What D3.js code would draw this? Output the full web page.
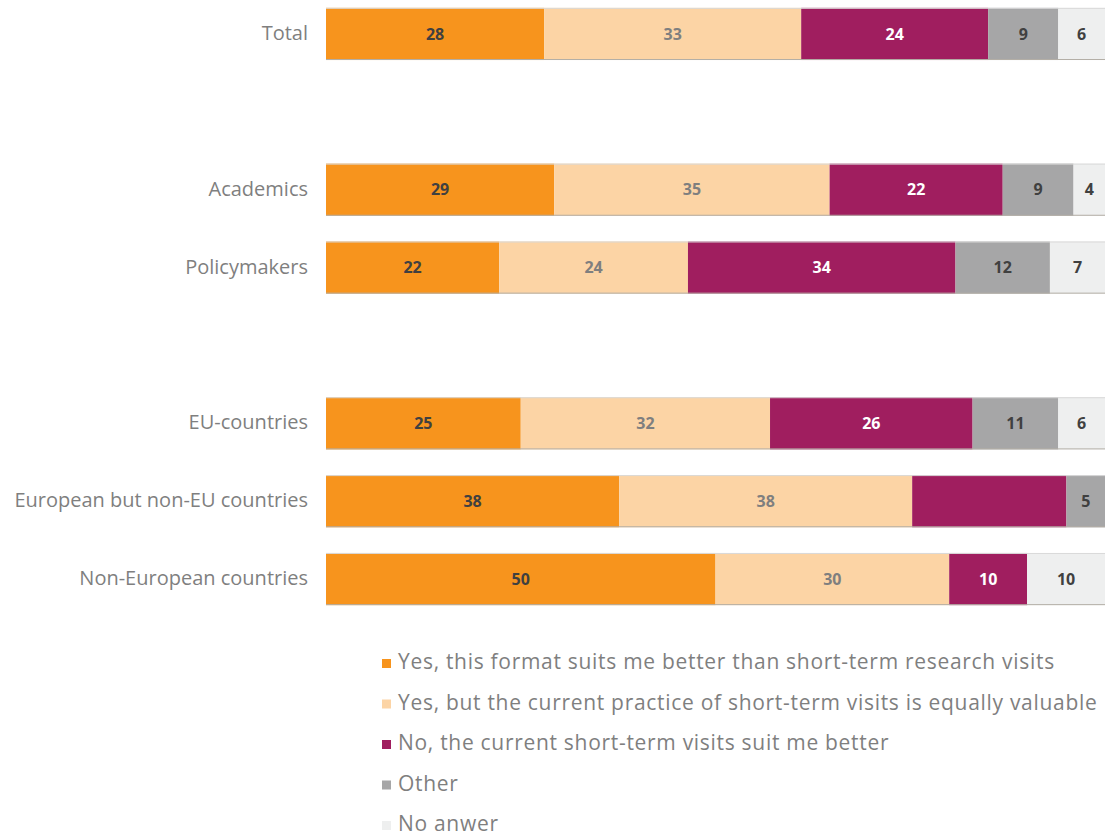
<!DOCTYPE html>
<html>
<head>
<meta charset="utf-8">
<script src="https://cdn.jsdelivr.net/npm/d3@7"></script>
<style>
  html, body { margin: 0; padding: 0; background: #ffffff; }
  svg { display: block; }
</style>
</head>
<body>
<svg id="chart" width="1105" height="837"></svg>
<script>
// Respondent groups, top to bottom
const categories = [
  "Total",
  "Academics",
  "Policymakers",
  "EU-countries",
  "European but non-EU countries",
  "Non-European countries"
];

// Row slots, with empty slots separating the three groups
const slots = [
  "Total", "gap-1",
  "Academics", "Policymakers", "gap-2",
  "EU-countries", "European but non-EU countries", "Non-European countries"
];

// Answer shares (%) per group, in category order
const suitsBetter     = [28, 29, 22, 25, 38, 50];
const equallyValuable = [33, 35, 24, 32, 38, 30];
const currentBetter   = [24, 22, 34, 26, 20, 10];
const otherAnswer     = [ 9,  9, 12, 11,  5,  0];
const noAnswer        = [ 6,  4,  7,  6,  0, 10];

const seriesNames = [
  "Yes, this format suits me better than short-term research visits",
  "Yes, but the current practice of short-term visits is equally valuable",
  "No, the current short-term visits suit me better",
  "Other",
  "No anwer"
];

// Segments printed without a value label
const unlabeled = [["European but non-EU countries", 2]];

const colors      = ["#f7941d", "#fcd4a5", "#a01e5f", "#a6a6a7", "#eeefef"];
const labelColors = ["#404040", "#7f7f7f", "#ffffff", "#404040", "#404040"];

const seriesValues = [suitsBetter, equallyValuable, currentBetter, otherAnswer, noAnswer];
const keys = d3.range(seriesNames.length);

const rows = categories.map((c, i) => {
  const r = { category: c };
  keys.forEach(k => { r[k] = seriesValues[k][i]; });
  return r;
});

const svg = d3.select("#chart");

const x = d3.scaleLinear().domain([0, 1]).range([326, 1105]);
const y = d3.scaleBand().domain(slots).range([-5, 618]).paddingInner(0.33).paddingOuter(0.165);

const stacked = d3.stack().keys(keys).offset(d3.stackOffsetExpand)(rows);

const layers = svg.append("g").selectAll("g.layer")
  .data(stacked)
  .join("g")
  .attr("class", "layer")
  .attr("fill", d => colors[d.key]);

layers.selectAll("rect")
  .data(d => d.filter(p => p[1] - p[0] > 0))
  .join("rect")
  .attr("x", d => x(d[0]))
  .attr("y", d => y(d.data.category))
  .attr("width", d => x(d[1]) - x(d[0]))
  .attr("height", y.bandwidth());

// thin top and bottom edges of each bar
const edges = svg.append("g");
categories.forEach(c => {
  const y0 = y(c), y1 = y(c) + y.bandwidth();
  edges.append("line")
    .attr("x1", x(0)).attr("x2", x(1))
    .attr("y1", y0 + 0.5).attr("y2", y0 + 0.5)
    .attr("stroke", "#d9d9d9").attr("stroke-width", 1);
  edges.append("line")
    .attr("x1", x(0)).attr("x2", x(1))
    .attr("y1", y1 - 0.5).attr("y2", y1 - 0.5)
    .attr("stroke", "#b3aea6").attr("stroke-width", 1);
});

// value labels
const isUnlabeled = (cat, key) => unlabeled.some(u => u[0] === cat && u[1] === key);
stacked.forEach(layer => {
  svg.append("g").selectAll("text")
    .data(layer.filter(p => p[1] - p[0] > 0 && !isUnlabeled(p.data.category, layer.key)))
    .join("text")
    .attr("x", d => (x(d[0]) + x(d[1])) / 2)
    .attr("y", d => y(d.data.category) + y.bandwidth() / 2)
    .attr("dy", "0.36em")
    .attr("text-anchor", "middle")
    .attr("font-family", "'Open Sans', sans-serif")
    .attr("font-weight", "bold")
    .attr("font-size", 16)
    .attr("fill", labelColors[layer.key])
    .text(d => d.data[layer.key]);
});

// category labels
svg.append("g").selectAll("text")
  .data(categories)
  .join("text")
  .attr("x", 308)
  .attr("y", d => y(d) + y.bandwidth() / 2 - 1)
  .attr("dy", "0.35em")
  .attr("text-anchor", "end")
  .attr("font-family", "'Open Sans', sans-serif")
  .attr("font-size", 20)
  .attr("fill", "#7f7f7f")
  .text(d => d);

// legend
const legend = svg.append("g").selectAll("g")
  .data(keys)
  .join("g")
  .attr("transform", k => `translate(382, ${662 + k * 40.5})`);

legend.append("rect")
  .attr("x", 0).attr("y", -3)
  .attr("width", 9).attr("height", 9)
  .attr("fill", k => colors[k]);

legend.append("text")
  .attr("x", 16)
  .attr("y", 0)
  .attr("dy", "0.35em")
  .attr("font-family", "'Open Sans', sans-serif")
  .attr("font-size", 21)
  .attr("letter-spacing", 0.7)
  .attr("fill", "#7f7f7f")
  .text(k => seriesNames[k]);
</script>
</body>
</html>
